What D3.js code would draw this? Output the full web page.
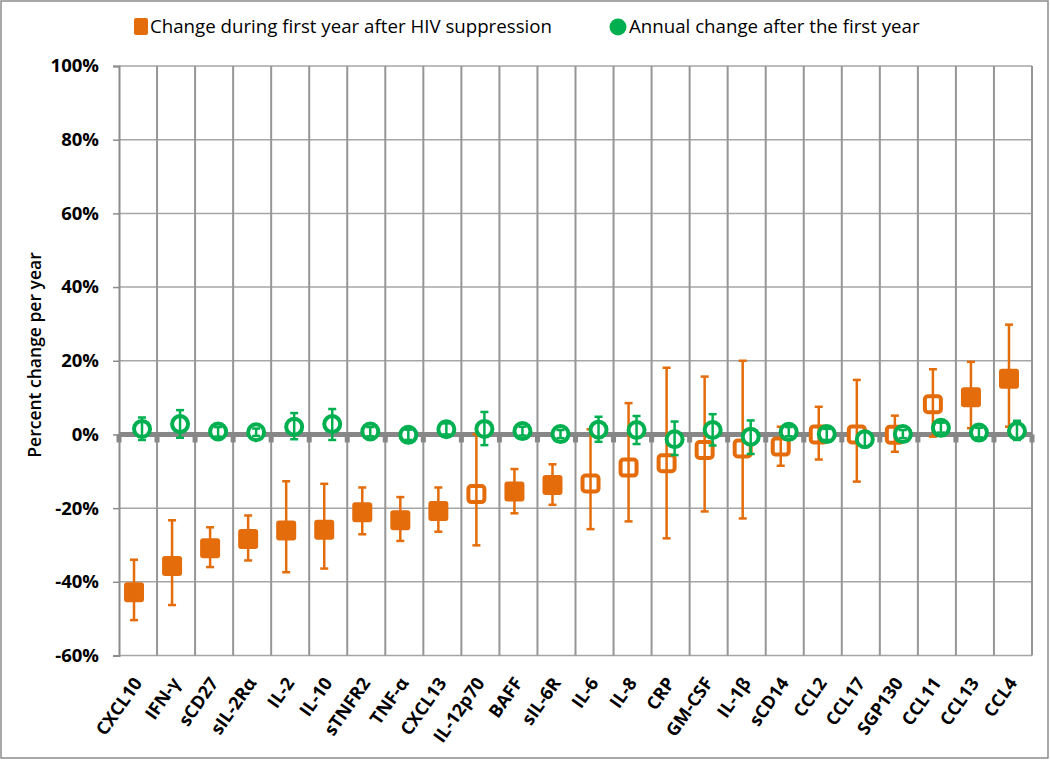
<!DOCTYPE html>
<html>
<head>
<meta charset="utf-8">
<script src="https://cdn.jsdelivr.net/npm/d3@7"></script>
<style>
  body { margin: 0; background: #fff; }
  text { font-family: "Open Sans", "Noto Sans", sans-serif; }
</style>
</head>
<body>
<script>
const svgW = 1050;
const svgH = 760;

// data
const categories = ['CXCL10', 'IFN-γ', 'sCD27', 'sIL-2Rα', 'IL-2', 'IL-10', 'sTNFR2', 'TNF-α', 'CXCL13',
  'IL-12p70', 'BAFF', 'sIL-6R', 'IL-6', 'IL-8', 'CRP', 'GM-CSF', 'IL-1β', 'sCD14', 'CCL2', 'CCL17',
  'SGP130', 'CCL11', 'CCL13', 'CCL4'];
const firstYear = [-42.8, -35.7, -30.9, -28.4, -26.1, -25.9, -21.1, -23.3, -20.8, -16.2, -15.5, -13.7,
  -13.3, -9.0, -7.8, -4.2, -3.8, -3.3, 0.0, 0.0, -0.1, 8.2, 10.1, 15.1];
const firstLow = [-50.4, -46.3, -36.0, -34.2, -37.4, -36.4, -27.1, -28.9, -26.4, -30.1, -21.4, -19.1,
  -25.7, -23.6, -28.2, -20.9, -22.8, -8.5, -6.8, -12.8, -4.7, -0.6, 1.7, 2.1];
const firstHigh = [-34.0, -23.3, -25.2, -22.0, -12.7, -13.4, -14.4, -17.0, -14.4, 0.1, -9.4, -8.1,
  1.4, 8.5, 18.1, 15.7, 20.0, 2.1, 7.5, 14.8, 5.1, 17.7, 19.7, 29.8];
const firstSignificant = [true, true, true, true, true, true, true, true, true, false, true, true,
  false, false, false, false, false, false, false, false, false, false, true, true];
const annual = [1.5, 2.8, 0.8, 0.6, 2.1, 2.8, 0.8, -0.1, 1.4, 1.5, 0.9, 0.1, 1.3, 1.2, -1.3, 1.2,
  -0.6, 0.7, 0.1, -1.3, 0.1, 1.8, 0.5, 0.9];
const annualLow = [-1.5, -0.9, -0.6, -0.4, -1.3, -1.5, -0.5, -1.5, 0.0, -2.9, -0.3, -1.0, -2.0, -2.6,
  -5.6, -3.0, -5.3, -0.5, -1.5, -3.5, -1.0, 0.5, -0.8, -1.5];
const annualHigh = [4.6, 6.6, 2.0, 1.6, 5.8, 6.9, 2.0, 1.3, 3.0, 6.1, 2.1, 1.2, 4.8, 5.0, 3.5, 5.5,
  3.8, 2.0, 1.5, 0.8, 1.2, 3.2, 1.8, 3.7];
const yTicks = [100, 80, 60, 40, 20, 0, -20, -40, -60];
const legendLabels = ['Change during first year after HIV suppression', 'Annual change after the first year'];

const orange = '#E46C0A';
const green = '#00B050';
const plot = { left: 119, right: 1032, top: 66, bottom: 655.5 };

const svg = d3.select('body')
  .append('svg')
  .attr('width', svgW)
  .attr('height', svgH);

// border
svg.append('rect')
  .attr('x', 1).attr('y', 1)
  .attr('width', svgW - 3).attr('height', svgH - 3)
  .attr('fill', 'none')
  .attr('stroke', '#8c8c8c')
  .attr('stroke-width', 1.5);

const xScale = d3.scaleBand()
  .domain(categories)
  .range([plot.left, plot.right]);
const yScale = d3.scaleLinear()
  .domain([-60, 100])
  .range([plot.bottom, plot.top]);

// horizontal grid
svg.append('g')
  .selectAll('line')
  .data(yTicks)
  .enter()
  .append('line')
  .attr('x1', plot.left).attr('x2', plot.right)
  .attr('y1', d => yScale(d)).attr('y2', d => yScale(d))
  .attr('stroke', '#a6a6a6')
  .attr('stroke-width', 1.5);

// vertical grid at category boundaries
const bounds = categories.map(c => xScale(c)).concat([plot.right]);
svg.append('g')
  .selectAll('line')
  .data(bounds.slice(1))
  .enter()
  .append('line')
  .attr('x1', d => d).attr('x2', d => d)
  .attr('y1', plot.top).attr('y2', plot.bottom)
  .attr('stroke', '#969696')
  .attr('stroke-width', 2);

// y axis
const yAxis = d3.axisLeft(yScale)
  .tickValues(yTicks)
  .tickSize(6)
  .tickFormat(d => d + '%');
const gy = svg.append('g')
  .attr('transform', `translate(${plot.left}, 0)`)
  .call(yAxis);
gy.select('.domain').attr('stroke', '#8c8c8c').attr('stroke-width', 2);
gy.selectAll('.tick line').attr('stroke', '#8c8c8c').attr('stroke-width', 1.5);
gy.selectAll('.tick text')
  .attr('x', -20)
  .attr('fill', '#000')
  .style('font-size', '18.5px')
  .style('font-weight', 'bold')
  .style('font-family', '"Open Sans", sans-serif');

svg.append('text')
  .attr('transform', `translate(41, 355) rotate(-90)`)
  .attr('text-anchor', 'middle')
  .style('font-size', '17.5px')
  .style('font-weight', '600')
  .text('Percent change per year');

// zero axis line with ticks
svg.append('line')
  .attr('x1', plot.left).attr('x2', plot.right)
  .attr('y1', yScale(0)).attr('y2', yScale(0))
  .attr('stroke', '#878787')
  .attr('stroke-width', 5);
svg.append('g')
  .selectAll('rect')
  .data(bounds)
  .enter()
  .append('rect')
  .attr('x', d => d - 2.5)
  .attr('y', yScale(0))
  .attr('width', 5)
  .attr('height', 8)
  .attr('fill', '#878787');

// x labels
svg.append('g')
  .selectAll('text')
  .data(categories)
  .enter()
  .append('text')
  .attr('transform', d => `translate(${xScale(d) + xScale.bandwidth() / 2 + 5}, 683) rotate(-55)`)
  .attr('text-anchor', 'end')
  .style('font-size', '18px')
  .style('font-weight', 'bold')
  .text(d => d);

const cx = (i, off) => xScale(categories[i]) + xScale.bandwidth() / 2 + off;

// orange series
const og = svg.append('g');
og.selectAll('rect')
  .data(firstYear)
  .enter()
  .append('rect')
  .attr('x', (d, i) => firstSignificant[i] ? cx(i, -4) - 10 : cx(i, -4) - 8)
  .attr('y', (d, i) => firstSignificant[i] ? yScale(d) - 10 : yScale(d) - 8)
  .attr('width', (d, i) => firstSignificant[i] ? 20 : 16)
  .attr('height', (d, i) => firstSignificant[i] ? 20 : 16)
  .attr('rx', 3)
  .attr('fill', (d, i) => firstSignificant[i] ? orange : '#fff')
  .attr('stroke', (d, i) => firstSignificant[i] ? 'none' : orange)
  .attr('stroke-width', 4);

function errorBars(g, lows, highs, off, color) {
  const eb = g.selectAll('.eb')
    .data(lows)
    .enter()
    .append('g')
    .attr('class', 'eb')
    .attr('stroke', color)
    .attr('stroke-width', 2.5);
  eb.append('line')
    .attr('x1', (d, i) => cx(i, off)).attr('x2', (d, i) => cx(i, off))
    .attr('y1', d => yScale(d)).attr('y2', (d, i) => yScale(highs[i]));
  eb.append('line')
    .attr('x1', (d, i) => cx(i, off) - 4).attr('x2', (d, i) => cx(i, off) + 4)
    .attr('y1', d => yScale(d)).attr('y2', d => yScale(d));
  eb.append('line')
    .attr('x1', (d, i) => cx(i, off) - 4).attr('x2', (d, i) => cx(i, off) + 4)
    .attr('y1', (d, i) => yScale(highs[i])).attr('y2', (d, i) => yScale(highs[i]));
}
errorBars(og, firstLow, firstHigh, -4, orange);

// green series
const gg = svg.append('g');
gg.selectAll('circle')
  .data(annual)
  .enter()
  .append('circle')
  .attr('cx', (d, i) => cx(i, 4))
  .attr('cy', d => yScale(d))
  .attr('r', 8)
  .attr('fill', '#fff')
  .attr('stroke', green)
  .attr('stroke-width', 4);
errorBars(gg, annualLow, annualHigh, 4, green);

// legend
const lg = svg.append('g').style('font-size', '18.7px');
lg.append('rect')
  .attr('x', 134).attr('y', 18)
  .attr('width', 14).attr('height', 17)
  .attr('rx', 2)
  .attr('fill', orange);
lg.append('text')
  .attr('x', 150).attr('y', 33)
  .text(legendLabels[0]);
lg.append('circle')
  .attr('cx', 618).attr('cy', 27)
  .attr('r', 8.5)
  .attr('fill', green);
lg.append('text')
  .attr('x', 629).attr('y', 33)
  .text(legendLabels[1]);
</script>
</body>
</html>
